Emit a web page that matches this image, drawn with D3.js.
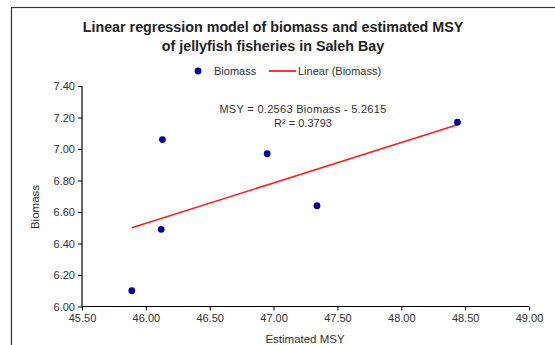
<!DOCTYPE html>
<html><head><meta charset="utf-8">
<script src="https://cdn.jsdelivr.net/npm/d3@7"></script>
<style>body{margin:0;background:#fff;}svg{display:block;font-family:"Liberation Sans",Arial,sans-serif;}</style>
</head><body>
<svg id="c" width="555" height="345"></svg>
<script>
const msy = [45.89, 46.12, 46.13, 46.95, 47.34, 48.44];
const biomass = [6.10, 6.49, 7.06, 6.97, 6.64, 7.17];
const trendCoef = [0.2563, -5.2615];
const r2 = 0.3793;
const xTicks = [45.5, 46.0, 46.5, 47.0, 47.5, 48.0, 48.5, 49.0];
const yTicks = [6.0, 6.2, 6.4, 6.6, 6.8, 7.0, 7.2, 7.4];
const titleLines = ["Linear regression model of biomass and estimated MSY", "of jellyfish  fisheries in Saleh Bay"];

const svg = d3.select("#c");
svg.append("rect").attr("x",11.5).attr("y",7.5).attr("width",600).attr("height",400)
  .attr("fill","#fff").attr("stroke","#333").attr("stroke-width",1.2);

const x = d3.scaleLinear().domain([45.5,49]).range([82,529]);
const y = d3.scaleLinear().domain([6.0,7.4]).range([306.5,86]);

titleLines.forEach((t,i)=>svg.append("text").attr("x",273).attr("y",32+i*18.5)
  .attr("text-anchor","middle").attr("font-weight","bold").attr("font-size",14.3).attr("fill","#222").text(t));

// legend
svg.append("circle").attr("cx",198).attr("cy",71).attr("r",3.4).attr("fill","#000099");
svg.append("text").attr("x",214).attr("y",75).attr("font-size",11).attr("fill","#333").text("Biomass");
svg.append("line").attr("x1",269).attr("x2",296).attr("y1",71).attr("y2",71).attr("stroke","#ff2020").attr("stroke-width",1.8);
svg.append("text").attr("x",298).attr("y",75).attr("font-size",11).attr("fill","#333").text("Linear (Biomass)");

// axes
const gx = svg.append("g").attr("transform",`translate(0,${y(6.0)})`)
  .call(d3.axisBottom(x).tickValues(xTicks).tickFormat(d3.format(".2f")).tickSize(4).tickPadding(4));
const gy = svg.append("g").attr("transform",`translate(${x(45.5)},0)`)
  .call(d3.axisLeft(y).tickValues(yTicks).tickFormat(d3.format(".2f")).tickSize(4).tickPadding(3));
[gx,gy].forEach(g=>{
  g.select(".domain").attr("stroke","#000").attr("stroke-width",1.2);
  g.selectAll(".tick line").attr("stroke","#000");
  g.selectAll("text").attr("font-size",11).attr("fill","#333").attr("font-family","Liberation Sans, Arial, sans-serif");
});
gx.select(".domain").attr("d",`M${x(45.5)},0H${x(49)}`);
gy.select(".domain").attr("d",`M0,${y(6.0)}V${y(7.4)}`);

svg.append("text").attr("x",305).attr("y",343).attr("text-anchor","middle").attr("font-size",11.5).attr("fill","#333").text("Estimated MSY");
svg.append("text").attr("transform","translate(39,207) rotate(-90)").attr("text-anchor","middle").attr("font-size",11.5).attr("fill","#333").text("Biomass");

// trendline
const xmin = d3.min(msy), xmax = d3.max(msy);
svg.append("line").attr("x1",x(xmin)).attr("y1",y(trendCoef[0]*xmin+trendCoef[1]))
  .attr("x2",x(xmax)).attr("y2",y(trendCoef[0]*xmax+trendCoef[1]))
  .attr("stroke","#ff2020").attr("stroke-width",1.6);

svg.selectAll("circle.pt").data(msy).enter().append("circle").attr("class","pt")
  .attr("cx",d=>x(d)).attr("cy",(d,i)=>y(biomass[i])).attr("r",3.4).attr("fill","#000099");

svg.append("text").attr("x",303).attr("y",113).attr("text-anchor","middle").attr("font-size",11).attr("letter-spacing",0.3).attr("fill","#333")
  .text(`MSY = ${trendCoef[0]} Biomass - ${Math.abs(trendCoef[1])}`);
svg.append("text").attr("x",303).attr("y",127).attr("text-anchor","middle").attr("font-size",11).attr("fill","#333")
  .text(`R² = ${r2}`);
</script>
</body></html>
